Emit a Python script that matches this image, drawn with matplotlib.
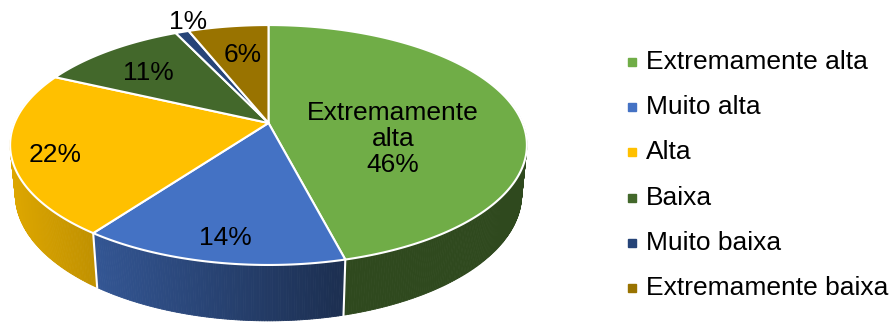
import matplotlib.pyplot as plt
import numpy as np
from matplotlib.collections import PolyCollection
from matplotlib.colors import to_rgb

##
## === DATA
##

categories = [
    "Extremamente alta",
    "Muito alta",
    "Alta",
    "Baixa",
    "Muito baixa",
    "Extremamente baixa",
]
shares = [46, 14, 22, 11, 1, 6]
colors = ["#70AD47", "#4472C4", "#FFC000", "#43682B", "#264478", "#997300"]
slice_labels = ["Extremamente\nalta\n{}%", "{}%", "{}%", "{}%", "{}%", "{}%"]
label_xy = [(393, 139), (225, 238), (55, 155), (148, 73), (188, 22), (243, 55)]

##
## === 3D PIE GEOMETRY (perspective view of a flat cylinder)
##

ELEV = np.radians(26.7)
DIST = 4.87
THICK = 0.215
CX, CY = 268.5, 123.0
KX, KY = 254.0, 258.0


def project(phi, h):
    # phi measured clockwise from the far point, disc radius 1
    x3 = np.sin(phi)
    y3 = np.cos(phi)
    v = y3 * np.sin(ELEV) + h * np.cos(ELEV)
    d = DIST + y3 * np.cos(ELEV) - h * np.sin(ELEV)
    sx = x3 / d * DIST
    sy = v / d * DIST
    return CX + KX * sx, CY - KY * sy


def wall_shade(px):
    # lighter on the left, darker to the right
    t = np.clip((px - 10.0) / (335.0 - 10.0), 0.0, 1.0)
    return 0.87 - 0.45 * t


fig = plt.figure(figsize=(8.94, 3.23), dpi=100)
ax = fig.add_axes([0, 0, 1, 1])
ax.set_xlim(0, 894)
ax.set_ylim(323, 0)
ax.axis("off")

fractions = np.array(shares, dtype=float) / sum(shares)
edges = np.concatenate([[0.0], np.cumsum(fractions)]) * 2 * np.pi

# side walls
quads = []
quad_colors = []
depth_keys = []
for i in range(len(shares)):
    a0, a1 = edges[i], edges[i + 1]
    n = max(2, int(np.degrees(a1 - a0) / 0.5))
    phis = np.linspace(a0, a1, n + 1)
    base = np.array(to_rgb(colors[i]))
    for p0, p1 in zip(phis[:-1], phis[1:]):
        pm = 0.5 * (p0 + p1)
        if np.cos(pm) > 0.2:
            continue
        xa, ya = project(p0, 0.0)
        xb, yb = project(p1, 0.0)
        xc, yc = project(p1, -THICK)
        xd, yd = project(p0, -THICK)
        quads.append([(xa, ya), (xb, yb), (xc, yc), (xd, yd)])
        quad_colors.append(base * wall_shade(0.5 * (xa + xb)))
        depth_keys.append(np.cos(pm))

order = np.argsort(depth_keys)[::-1]
walls = PolyCollection(
    [quads[k] for k in order],
    facecolors=[quad_colors[k] for k in order],
    edgecolors=[quad_colors[k] for k in order],
    linewidths=0.6,
)
ax.add_collection(walls)

# white seams on the wall where slices meet
for a in edges[1:-1]:
    if np.cos(a) < -0.1:
        x0, y0 = project(a, 0.0)
        x1, y1 = project(a, -THICK)
        ax.plot([x0, x1], [y0, y1], color="white", lw=1.5)

# top faces
for i in range(len(shares)):
    phis = np.linspace(edges[i], edges[i + 1], 200)
    xs, ys = project(phis, 0.0)
    poly = np.vstack([[CX, CY], np.column_stack([xs, ys])])
    ax.fill(poly[:, 0], poly[:, 1], facecolor=colors[i],
            edgecolor="white", linewidth=1.5, joinstyle="round")

# slice labels
for i, (lx, ly) in enumerate(label_xy):
    ax.text(lx, ly, slice_labels[i].format(shares[i]), ha="center", va="center",
            fontsize=19, family="Liberation Sans", color="black", linespacing=1.12)

# legend
for i, name in enumerate(categories):
    yy = 62 + i * 45.2
    ax.plot(632, yy, marker="s", markersize=5.5, color=colors[i], lw=0)
    ax.text(646, yy, name, ha="left", va="center", fontsize=19,
            family="Liberation Sans", color="black")

fig.savefig("out.png", dpi=100)
